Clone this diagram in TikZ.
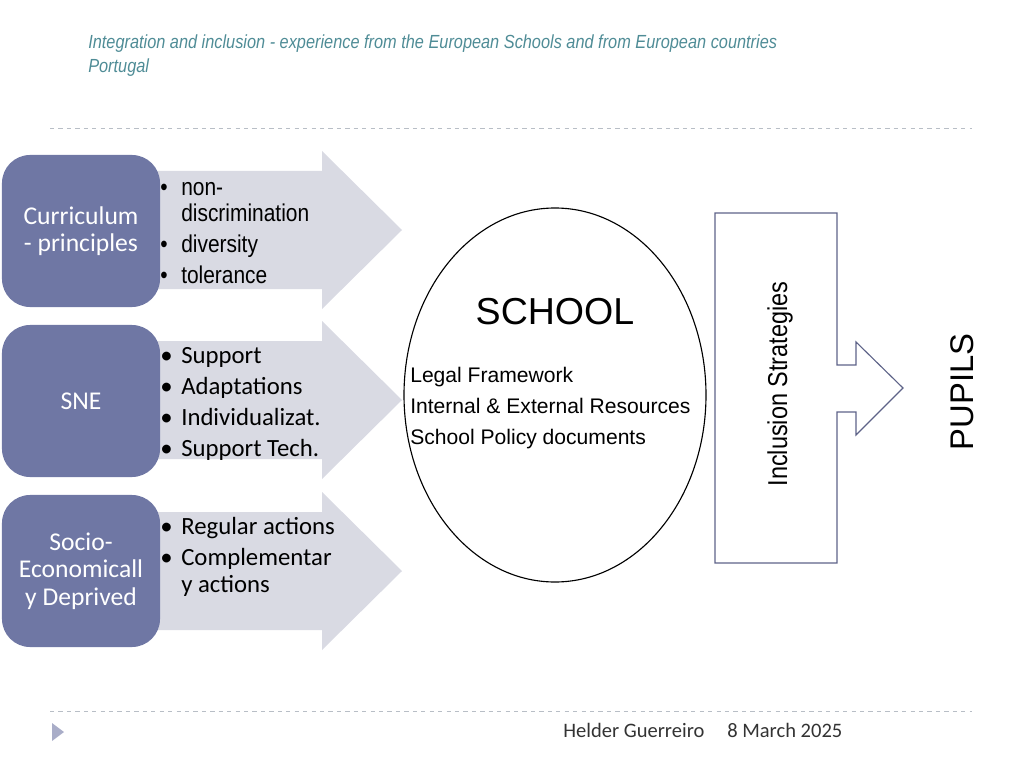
\documentclass[tikz,border=0pt]{standalone}
\usepackage{fontspec}
\setmainfont{Carlito}
\newfontfamily\narrowsans{Liberation Sans}[FakeStretch=0.86]
\newfontfamily\arialsans{Liberation Sans}
\usetikzlibrary{positioning}
\usetikzlibrary{shapes.geometric}
\definecolor{boxblue}{HTML}{6F77A4}
\definecolor{arrowgray}{HTML}{D9DAE3}
\definecolor{headteal}{HTML}{4F8C96}
\definecolor{rulegray}{HTML}{B8BEC6}
\definecolor{frameline}{HTML}{5E6388}
\newcommand{\bul}{\makebox[0.525cm][l]{\textbullet}}
\newcommand{\ind}{\hspace*{0.525cm}}
\begin{document}
\begin{tikzpicture}[x=0.025cm,y=-0.025cm,
      topic style/.style={rectangle,rounded corners=20,fill=boxblue,text=white,
        minimum width=3.95cm,minimum height=3.8cm,align=center,
        font=\fontsize{18.2}{19.5}\selectfont},
      band style/.style={fill=arrowgray,draw=none},
      list style/.style={anchor=west,align=left,inner sep=0pt,
        font=\fontsize{17.6}{22.2}\selectfont}
      ]
      \useasboundingbox (0,0) rectangle (1024,768);

      % header
      \node[anchor=west,text=headteal,align=left,inner sep=0pt,
        font=\narrowsans\itshape\fontsize{13.5}{17}\selectfont] (title) at (88,56)
        {Integration and inclusion - experience from the European Schools and from European countries\\Portugal};
      \draw[rulegray,dashed] (50,128) -- (972,128);

      % grey arrows
      \foreach \yc in {230,400,571}{
        \fill[band style] (150,\yc-59) -- (322,\yc-59) -- (322,\yc-79) -- (402,\yc)
          -- (322,\yc+79) -- (322,\yc+59) -- (150,\yc+59) -- cycle;
      }

      % topics
      \node[topic style] (curr) at (81,231) {Curriculum\\- principles};
      \node[topic style] (sne) at (81,401) {SNE};
      \node[topic style] (socio) at (81,571) {Socio-\\Economicall\\y Deprived};

      \node[list style,font=\narrowsans\fontsize{17.3}{22.2}\selectfont] (l1) at (160,233)
        {\bul non-\\[-3.5pt]\ind discrimination\\\bul diversity\\\bul tolerance};
      \node[list style] (l2) at (160,404)
        {\bul Support\\\bul Adaptations\\\bul Individualizat.\\\bul Support Tech.};
      \node[list style] (l3) at (160,557)
        {\bul Regular actions\\\bul Complementar\\[-3pt]\ind y actions};

      % school
      \coordinate (school) at (555,395);
      \draw[black,thick] (school) ellipse [x radius=151, y radius=187];
      \node[font=\arialsans\fontsize{26.7}{30}\selectfont] (schooltxt) at (555,312) {SCHOOL};
      \node[anchor=west,align=left,inner sep=0pt,font=\arialsans\fontsize{15}{21.8}\selectfont] (school list) at (410,408)
        {Legal Framework\\Internal \& External Resources\\School Policy documents};

      % strategies arrow
      \draw[frameline,thick] (715,213) -- (837,213) -- (837,365) -- (856,365) -- (856,342) -- (903,388)
        -- (856,435) -- (856,412) -- (837,412) -- (837,563) -- (715,563) -- cycle;
      \node[rotate=90,font=\narrowsans\fontsize{19.4}{22}\selectfont] (strat) at (780,384) {Inclusion Strategies};
      \node[rotate=90,font=\arialsans\fontsize{23.3}{28}\selectfont] (pupils) at (962,392) {PUPILS};

      % footer
      \draw[rulegray,dashed] (50,711) -- (972,711);
      \fill[boxblue!60] (52,723) -- (64,732) -- (52,741) -- cycle;
      \node[anchor=west,inner sep=0pt,text=black!80,font=\fontsize{14.6}{17}\selectfont] (author) at (563,730) {Helder Guerreiro};
      \node[anchor=west,inner sep=0pt,text=black!80,font=\fontsize{14.6}{17}\selectfont] (date) at (727,730) {8 March 2025};
    \end{tikzpicture}
\end{document}
